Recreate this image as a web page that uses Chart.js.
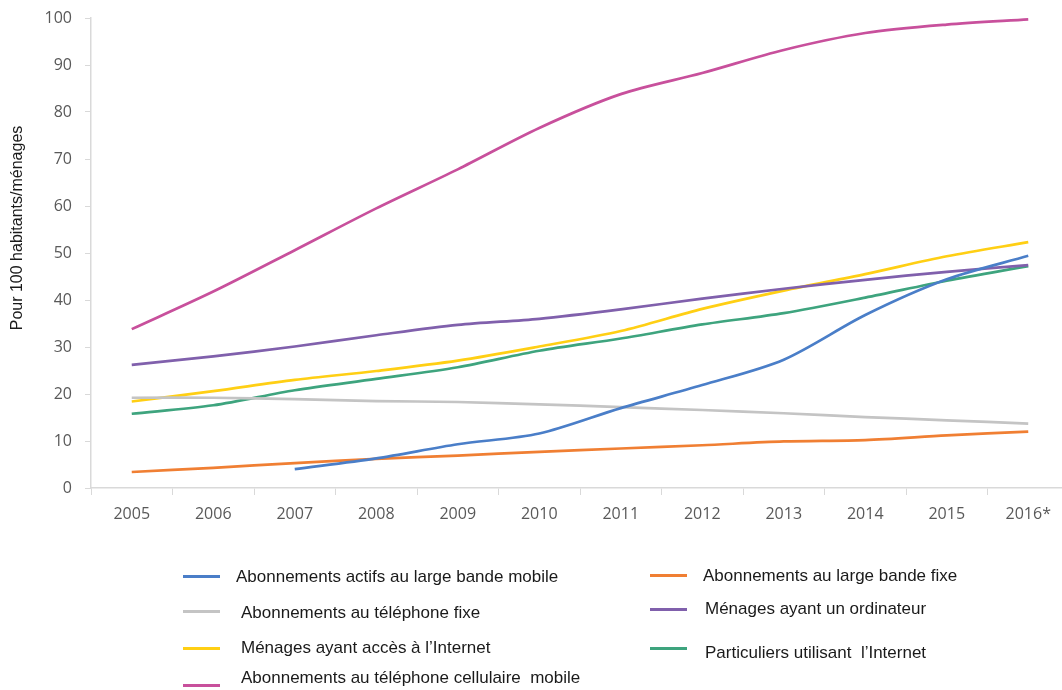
<!DOCTYPE html>
<html lang="fr">
<head>
<meta charset="utf-8">
<script src="https://cdn.jsdelivr.net/npm/chart.js@4.4.1/dist/chart.umd.min.js"></script>
<style>
  html, body { margin: 0; padding: 0; background: #fff; overflow: hidden; }
  #wrap { position: relative; width: 1062px; height: 690px; overflow: hidden; }
  #box { position: absolute; left: 0; top: 0; width: 1072px; height: 545px; }
  #legend { position: absolute; left: 0; top: 0; width: 1062px; height: 690px; pointer-events: none;
            font-family: "Liberation Sans", Arial, sans-serif; font-size: 17px; color: #1a1a1a; }
  .swatch { position: absolute; width: 37px; height: 3px; }
  .label { position: absolute; line-height: 20px; white-space: pre; }
</style>
</head>
<body>
<div id="wrap">
  <div id="box"><canvas id="c"></canvas></div>
  <div id="legend"></div>
</div>
<script>
// Years on the horizontal axis (2016 is a provisional estimate)
const years = ['2005', '2006', '2007', '2008', '2009', '2010', '2011', '2012', '2013', '2014', '2015', '2016*'];

// Indicators, per 100 inhabitants or per 100 households
const largeBandeMobile   = [null, null, 4.0, 6.3, 9.3, 11.6, 17.0, 21.9, 27.3, 36.8, 44.4, 49.4];
const largeBandeFixe     = [3.4, 4.3, 5.3, 6.2, 6.9, 7.7, 8.4, 9.1, 9.9, 10.2, 11.2, 12.0];
const telephoneFixe      = [19.2, 19.2, 18.9, 18.5, 18.3, 17.8, 17.2, 16.6, 15.9, 15.1, 14.4, 13.7];
const menagesOrdinateur  = [26.2, 28.0, 30.1, 32.5, 34.7, 36.0, 38.0, 40.3, 42.4, 44.3, 46.0, 47.4];
const menagesInternet    = [18.4, 20.6, 23.0, 24.9, 27.1, 30.1, 33.4, 38.1, 42.0, 45.5, 49.3, 52.3];
const particuliersNet    = [15.8, 17.6, 20.8, 23.2, 25.7, 29.2, 31.8, 34.8, 37.2, 40.5, 44.1, 47.2];
const cellulaireMobile   = [33.8, 41.8, 50.6, 59.5, 67.8, 76.6, 83.8, 88.3, 93.2, 96.8, 98.6, 99.7];

// Value axis ticks
const yTicks = [0, 10, 20, 30, 40, 50, 60, 70, 80, 90, 100];
const yTitle = 'Pour 100 habitants/ménages';

const series = [
  { label: 'Abonnements actifs au large bande mobile', data: largeBandeMobile, color: '#4a7ec8' },
  { label: 'Abonnements au large bande fixe', data: largeBandeFixe, color: '#f07f33' },
  { label: 'Abonnements au téléphone fixe', data: telephoneFixe, color: '#c4c4c4' },
  { label: 'Ménages ayant un ordinateur', data: menagesOrdinateur, color: '#8060ac' },
  { label: 'Ménages ayant accès à l\u2019Internet', data: menagesInternet, color: '#ffcf14' },
  { label: 'Particuliers utilisant  l\u2019Internet', data: particuliersNet, color: '#3ea47e' },
  { label: 'Abonnements au téléphone cellulaire  mobile', data: cellulaireMobile, color: '#c8509c' }
];

// Legend placement (swatch left/top, text left/top), same order as series
const legendSlots = [
  [183, 576, 236, 567], [650, 575, 703, 566],
  [183, 611, 241, 603], [650, 609, 705, 599],
  [183, 648, 241, 638], [650, 648, 705, 643],
  [183, 685, 241, 668]
];

const tickColor = '#595959';
const axisColor = '#d9d9d9';
const tickFont = "'Open Sans', 'Liberation Sans', Arial, sans-serif";
const titleFont = "'Liberation Sans', Arial, sans-serif";

// Rotated value-axis title, placed to the left of the tick labels
const axisTitle = {
  id: 'axisTitle',
  afterDraw(chart) {
    const ctx = chart.ctx;
    ctx.save();
    ctx.translate(18, 228);
    ctx.rotate(-Math.PI / 2);
    ctx.font = '16px ' + titleFont;
    ctx.fillStyle = '#1a1a1a';
    ctx.textAlign = 'center';
    ctx.textBaseline = 'middle';
    ctx.fillText(yTitle, 0, 0);
    ctx.restore();
  }
};

new Chart(document.getElementById('c'), {
  type: 'line',
  data: {
    labels: years,
    datasets: series.map(s => ({
      label: s.label,
      data: s.data,
      borderColor: s.color,
      backgroundColor: s.color,
      borderWidth: 2.7,
      pointRadius: 0,
      tension: 0.3,
      fill: false,
      spanGaps: false
    }))
  },
  plugins: [axisTitle],
  options: {
    responsive: true,
    maintainAspectRatio: false,
    animation: false,
    events: [],
    layout: { padding: { left: 0, right: 3, top: 18, bottom: 0 } },
    plugins: { legend: { display: false }, tooltip: { enabled: false } },
    scales: {
      x: {
        type: 'category',
        offset: true,
        grid: { offset: true, drawOnChartArea: false, drawTicks: true, tickLength: 7, color: axisColor, lineWidth: 1 },
        border: { color: axisColor, width: 1.5 },
        ticks: { color: tickColor, font: { family: tickFont, size: 16 }, padding: 10, maxRotation: 0, autoSkip: false },
        afterFit: scale => { scale.height = 545 - 488; scale.paddingLeft = 0; scale.paddingRight = 0; }
      },
      y: {
        min: 0,
        max: 100,
        afterBuildTicks: scale => { scale.ticks = yTicks.map(v => ({ value: v })); },
        grid: { drawOnChartArea: false, drawTicks: true, tickLength: 6, color: axisColor },
        border: { color: axisColor, width: 1.5 },
        ticks: { color: tickColor, font: { family: tickFont, size: 16 }, padding: 13 },
        afterFit: scale => { scale.width = 91; scale.paddingTop = 0; scale.paddingBottom = 0; }
      }
    }
  }
});

// Legend below the plot
const legend = document.getElementById('legend');
series.forEach((s, i) => {
  const [sx, sy, tx, ty] = legendSlots[i];
  const sw = document.createElement('div');
  sw.className = 'swatch';
  sw.style.left = sx + 'px';
  sw.style.top = (sy - 1.5) + 'px';
  sw.style.background = s.color;
  legend.appendChild(sw);
  const tl = document.createElement('div');
  tl.className = 'label';
  tl.style.left = tx + 'px';
  tl.style.top = ty + 'px';
  tl.textContent = s.label;
  legend.appendChild(tl);
});
</script>
</body>
</html>
